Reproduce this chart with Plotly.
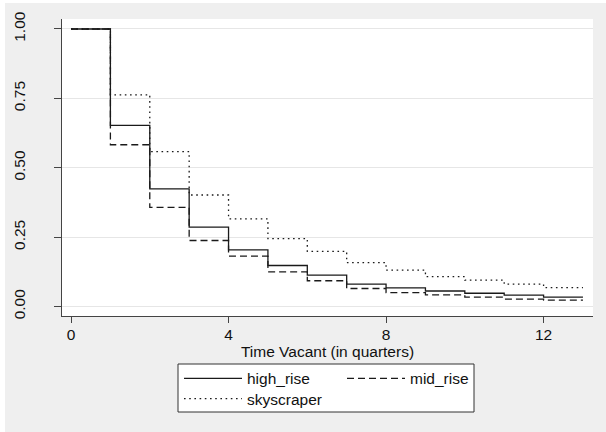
import plotly.graph_objects as go

# Kaplan-Meier style survival estimates of vacancy duration by building class
quarters = [0, 1, 2, 3, 4, 5, 6, 7, 8, 9, 10, 11, 12, 13]
high_rise = [1.0, 0.653, 0.424, 0.286, 0.204, 0.148, 0.113, 0.081, 0.067, 0.056, 0.048, 0.041, 0.034, 0.034]
mid_rise = [1.0, 0.583, 0.357, 0.238, 0.182, 0.125, 0.093, 0.065, 0.050, 0.042, 0.034, 0.027, 0.023, 0.023]
skyscraper = [1.0, 0.763, 0.558, 0.402, 0.316, 0.245, 0.199, 0.158, 0.131, 0.108, 0.095, 0.081, 0.068, 0.068]

x_ticks = [0, 4, 8, 12]
y_ticks = [0.0, 0.25, 0.5, 0.75, 1.0]
y_tick_text = ["0.00", "0.25", "0.50", "0.75", "1.00"]

W, H = 606, 432
M_L, M_R, M_T, M_B = 62, 13, 19, 116
FONT = "Liberation Sans, Arial, sans-serif"
BG = "#efefef"

fig = go.Figure()
fig.add_trace(go.Scatter(x=quarters, y=high_rise, name="high_rise", mode="lines",
                         line=dict(shape="hv", color="#1a1a1a", width=1.3),
                         legend="legend"))
fig.add_trace(go.Scatter(x=quarters, y=mid_rise, name="mid_rise", mode="lines",
                         line=dict(shape="hv", color="#1a1a1a", width=1.3, dash="7px,4px"),
                         legend="legend"))
fig.add_trace(go.Scatter(x=quarters, y=skyscraper, name="skyscraper", mode="lines",
                         line=dict(shape="hv", color="#1a1a1a", width=1.3, dash="1.6px,3.6px"),
                         legend="legend2"))

pw = W - M_L - M_R
ph = H - M_T - M_B


def px_x(p):
    return (p - M_L) / pw


def px_y(p):
    return (H - M_B - p) / ph


shapes = [
    # thin white strips at the left and top edges of the canvas
    dict(type="rect", xref="paper", yref="paper", x0=px_x(0), x1=px_x(5), y0=px_y(H), y1=px_y(0),
         fillcolor="white", line_width=0, layer="below"),
    dict(type="rect", xref="paper", yref="paper", x0=px_x(0), x1=px_x(W), y0=px_y(3), y1=px_y(0),
         fillcolor="white", line_width=0, layer="below"),
    # legend frame
    dict(type="rect", xref="paper", yref="paper", x0=px_x(178), x1=px_x(474), y0=px_y(412), y1=px_y(364),
         fillcolor="white", line=dict(color="#333333", width=1), layer="above"),
]

fig.update_layout(
    width=W, height=H,
    margin=dict(l=M_L, r=M_R, t=M_T, b=M_B, autoexpand=False),
    paper_bgcolor=BG, plot_bgcolor="white",
    font=dict(family=FONT, size=15.5, color="#111111"),
    shapes=shapes,
    legend=dict(orientation="h", xref="container", yref="container",
                x=179 / W, y=1 - 361.7 / H, xanchor="left", yanchor="top",
                bgcolor="rgba(0,0,0,0)", borderwidth=0, itemwidth=58,
                entrywidth=90, font=dict(size=15.5)),
    legend2=dict(orientation="h", xref="container", yref="container",
                 x=179 / W, y=1 - 382 / H, xanchor="left", yanchor="top",
                 bgcolor="rgba(0,0,0,0)", borderwidth=0, itemwidth=58,
                 font=dict(size=15.5)),
)

fig.update_xaxes(range=[-0.229, 13.255], tickvals=x_ticks, ticks="outside", ticklen=6,
                 tickcolor="#444444", showline=True, linecolor="#444444", linewidth=1,
                 showgrid=False, zeroline=False, ticklabelstandoff=-2,
                 title=dict(text="Time Vacant (in quarters)", standoff=0, font=dict(size=15.5)))
fig.update_yaxes(range=[-0.034, 1.036], tickvals=y_ticks, ticktext=y_tick_text, tickangle=-90,
                 ticks="outside", ticklen=7, tickcolor="#444444", showline=True,
                 linecolor="#444444", linewidth=1, showgrid=True, gridcolor="#e6e6e6",
                 gridwidth=1, zeroline=False, ticklabelstandoff=23)

fig.write_html("out.html")
